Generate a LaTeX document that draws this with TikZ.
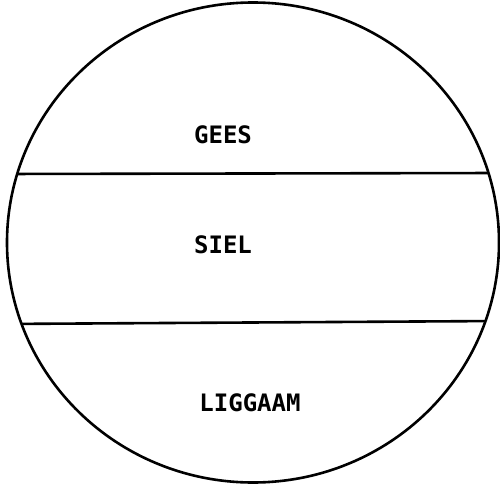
\documentclass[tikz,border=0pt]{standalone}
\usepackage{fontspec}
\newfontfamily\labelfont{DejaVu Sans Mono}
\begin{document}
\begin{tikzpicture}[x=1pt,y=-1pt,
  outline/.style={line width=2.6pt,black},
  lbl/.style={font=\labelfont\bfseries\fontsize{24}{28}\selectfont,inner sep=0pt}]
\useasboundingbox (0,0) rectangle (500,484);
\begin{scope}
\clip (253,242.5) ellipse [x radius=246,y radius=240];
\coordinate (l1) at (0,174);
\coordinate (r1) at (500,173);
\coordinate (l2) at (0,324);
\coordinate (r2) at (500,321);
\draw[outline] (l1) -- (r1);
\draw[outline] (l2) -- (r2);
\end{scope}
\draw[outline] (253,242.5) ellipse [x radius=246,y radius=240];
\node[lbl] (gees) at (223,135) {GEES};
\node[lbl] (siel) at (223,245) {SIEL};
\node[lbl] (liggaam) at (250,403) {LIGGAAM};
\end{tikzpicture}
\end{document}
